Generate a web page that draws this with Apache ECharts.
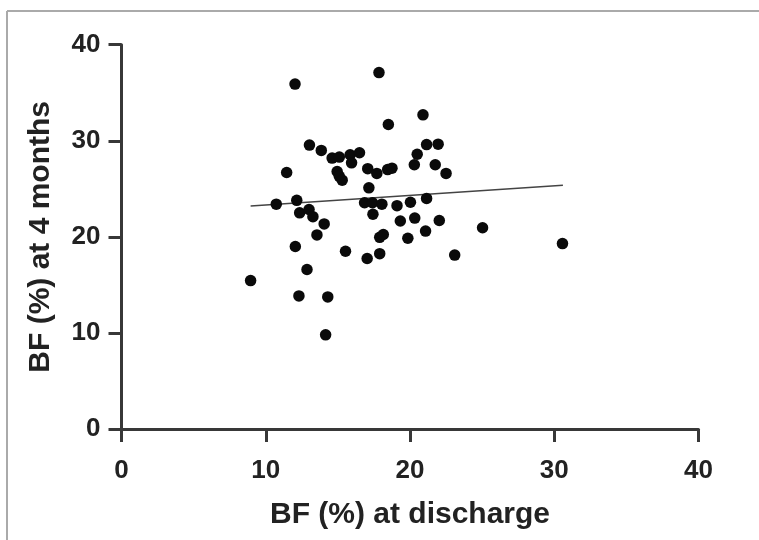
<!DOCTYPE html>
<html>
<head>
<meta charset="utf-8">
<script src="https://cdn.jsdelivr.net/npm/echarts@6/dist/echarts.min.js"></script>
<style>html,body{margin:0;padding:0;background:#fff;}#c{width:759px;height:540px;}</style>
</head>
<body>
<div id="c"></div>
<script>
var xTicks = [0, 10, 20, 30, 40];
var yTicks = [0, 10, 20, 30, 40];
var xVals = [12.03,17.85,20.9,18.5,13.03,13.85,21.95,21.15,14.6,15.1,15.85,16.5,20.5,20.3,21.75,22.5,11.45,14.95,15.1,15.3,15.95,17.07,17.7,18.45,18.75,17.15,10.73,12.15,12.35,13.0,13.27,14.05,13.55,12.05,15.53,12.86,8.95,12.3,14.3,14.15,16.85,17.4,18.05,17.43,19.1,20.03,21.15,19.33,20.33,22.03,17.9,18.15,19.85,21.08,17.03,17.9,23.1,25.03,30.57];
var yVals = [35.9,37.1,32.7,31.7,29.55,29.0,29.65,29.6,28.2,28.3,28.55,28.75,28.6,27.5,27.5,26.6,26.7,26.8,26.3,25.9,27.7,27.1,26.6,27.0,27.15,25.1,23.4,23.8,22.5,22.85,22.1,21.35,20.2,19.0,18.5,16.6,15.45,13.85,13.75,9.8,23.55,23.55,23.4,22.35,23.25,23.6,24.0,21.65,21.95,21.7,19.95,20.25,19.85,20.6,17.75,18.25,18.1,20.95,19.3];
var fitX = [8.95, 30.6];
var fitY = [23.22, 25.38];

var pts = xVals.map(function (x, i) { return [x, yVals[i]]; });
var fit = fitX.map(function (x, i) { return [x, fitY[i]]; });

var chart = echarts.init(document.getElementById('c'));
var axisCol = '#383838';
var font = 'Liberation Sans, Arial, sans-serif';
chart.setOption({
  animation: false,
  backgroundColor: '#fff',
  grid: { left: 121.5, right: 60.5, top: 44.7, bottom: 111 },
  xAxis: {
    type: 'value', min: xTicks[0], max: xTicks[xTicks.length - 1], interval: 10,
    splitLine: { show: false },
    axisLine: { onZero: false, lineStyle: { color: axisCol, width: 3 } },
    axisTick: { length: 13, lineStyle: { color: axisCol, width: 3 } },
    axisLabel: { margin: 29, fontSize: 26, fontWeight: 'bold', color: '#222', fontFamily: font },
    name: 'BF (%) at discharge', nameLocation: 'middle', nameGap: 71,
    nameTextStyle: { fontSize: 30, fontWeight: 'bold', color: '#222', fontFamily: font }
  },
  yAxis: {
    type: 'value', min: yTicks[0], max: yTicks[yTicks.length - 1], interval: 10,
    splitLine: { show: false },
    axisLine: { onZero: false, lineStyle: { color: axisCol, width: 3 } },
    axisTick: { length: 13, lineStyle: { color: axisCol, width: 3 } },
    axisLabel: { margin: 21, fontSize: 26, fontWeight: 'bold', color: '#222', fontFamily: font },
    name: 'BF (%) at 4 months', nameLocation: 'middle', nameGap: 66,
    nameTextStyle: { fontSize: 30, fontWeight: 'bold', color: '#222', fontFamily: font }
  },
  graphic: [
    { type: 'line', shape: { x1: 7, y1: 11, x2: 759, y2: 11 }, style: { stroke: '#aaa', lineWidth: 2 } },
    { type: 'line', shape: { x1: 7, y1: 11, x2: 7, y2: 540 }, style: { stroke: '#aaa', lineWidth: 2 } }
  ],
  series: [
    {
      type: 'line', data: fit, symbol: 'none', silent: true,
      lineStyle: { color: '#444', width: 1.5 }, z: 3
    },
    {
      type: 'scatter', data: pts, symbol: 'circle', symbolSize: 11.5,
      itemStyle: { color: '#0a0a0a', opacity: 1 }, z: 4
    }
  ]
});
</script>
</body>
</html>
